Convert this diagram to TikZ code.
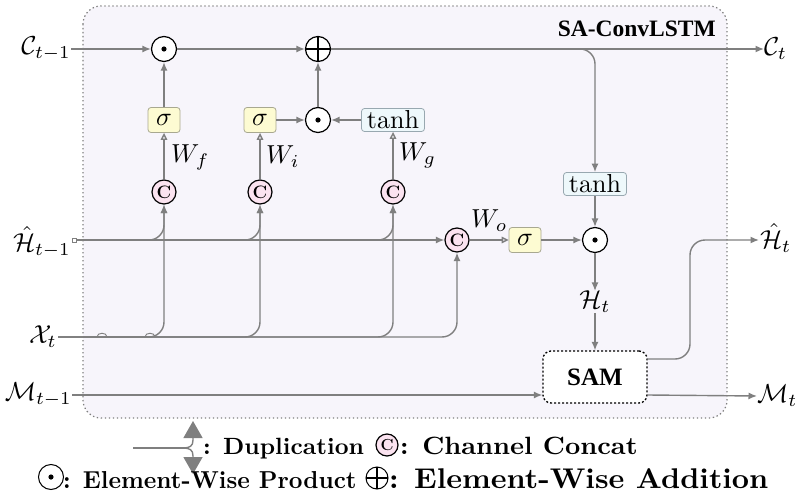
\documentclass[tikz,border=0pt]{standalone}
\usepackage{fontspec}
\usepackage{amsmath}
\newfontfamily\tnrfont{Liberation Serif}
\usetikzlibrary{arrows.meta}
\definecolor{lgray}{HTML}{7F7F7F}
\definecolor{framefill}{HTML}{F7F5FB}
\definecolor{ccpink}{HTML}{FBE3F0}
\definecolor{sigfill}{HTML}{FDFBD2}
\definecolor{sigdraw}{HTML}{A8A890}
\definecolor{thfill}{HTML}{EEF8FB}
\definecolor{thdraw}{HTML}{98A8B0}
\newcommand\myScl[1]{\scalebox{2.6}{#1}}
\begin{document}
\begin{tikzpicture}[x=1pt,y=-1pt,
  lline/.style={draw=lgray, line width=1.4pt},
  arr/.style={lline, -{Latex[length=8.5pt,width=7pt]}},
  oarr/.style={lline, -{Triangle[open,length=7pt,width=6.5pt]}},
  rc/.style={rounded corners=15pt},
  op/.style={circle, draw=black, line width=1.2pt, fill=white, minimum size=25pt, inner sep=0pt},
  dotc/.style={op, path picture={\fill[black] (path picture bounding box.center) circle (2.6pt);}},
  plusc/.style={op, path picture={\draw[black,line width=1.2pt]
     ([xshift=-13pt]path picture bounding box.center) -- ([xshift=13pt]path picture bounding box.center)
     ([yshift=-13pt]path picture bounding box.center) -- ([yshift=13pt]path picture bounding box.center);}},
  cc/.style={circle, draw=black, line width=1.2pt, fill=ccpink, minimum size=24pt, inner sep=0pt,
     font=\fontsize{18}{18}\selectfont\bfseries},
  sig/.style={draw=sigdraw, line width=0.8pt, fill=sigfill, rounded corners=3pt, minimum width=32pt,
     minimum height=25pt, inner sep=0pt},
  th/.style={draw=thdraw, line width=0.8pt, fill=thfill, rounded corners=3pt, minimum width=63pt,
     minimum height=23pt, inner sep=0pt},
  lbl/.style={inner sep=0pt},
  wlbl/.style={inner sep=0pt, anchor=west},
  legtext/.style={inner sep=0pt, anchor=base west, font=\bfseries}]
\useasboundingbox (0,0) rectangle (795,495);
% frame
\draw[draw=lgray, fill=framefill, line width=1.2pt, dash pattern=on 1.4pt off 2.6pt, rounded corners=18pt]
  (83,6) rectangle (727,418);
\node[anchor=east, inner sep=0pt, font=\fontsize{23.5}{26}\selectfont\tnrfont\bfseries] (ttl) at (716,29) {SA-ConvLSTM};

% operators
\node[dotc]  (o1)   at (164,49) {};
\node[plusc] (plus) at (318,49) {};
\node[dotc]  (o2)   at (318,120) {};
\node[dotc]  (o3)   at (595,240) {};
% gates
\node[sig] (s1) at (164,120) {\myScl{$\sigma$}};
\node[sig] (s2) at (260,120) {\myScl{$\sigma$}};
\node[th]  (t1) at (393,120) {\myScl{$\tanh$}};
\node[sig] (s3) at (525,240) {\myScl{$\sigma$}};
\node[th]  (t2) at (595,184) {\myScl{$\tanh$}};
% concat
\node[cc] (c1) at (164,192) {C};
\node[cc] (c2) at (260,192) {C};
\node[cc] (c3) at (393,192) {C};
\node[cc] (c4) at (457,240) {C};
% SAM
\node[draw=black, line width=1.3pt, dash pattern=on 2pt off 2pt, fill=white, rounded corners=8pt,
  minimum width=104pt, minimum height=52pt, inner sep=0pt,
  font=\fontsize{25}{28}\selectfont\tnrfont\bfseries] (sam) at (595,377) {SAM};

% labels
\node[lbl, anchor=east] (Cin)  at (71,49)  {\myScl{$\mathcal{C}_{t-1}$}};
\node[lbl, anchor=west] (Cout) at (764,49) {\myScl{$\mathcal{C}_t$}};
\node[lbl, anchor=east] (Hin)  at (71,242) {\myScl{$\hat{\mathcal{H}}_{t-1}$}};
\node[lbl, anchor=east] (Xin)  at (57,337) {\myScl{$\mathcal{X}_t$}};
\node[lbl, anchor=east] (Min)  at (72,395) {\myScl{$\mathcal{M}_{t-1}$}};
\node[lbl, anchor=west] (Hout) at (760,238) {\myScl{$\hat{\mathcal{H}}_t$}};
\node[lbl, anchor=west] (Mout) at (757,396) {\myScl{$\mathcal{M}_t$}};
\node[lbl] (Ht) at (595,302) {\myScl{$\mathcal{H}_t$}};
\node[wlbl] (wf) at (171,157) {\myScl{$W_f$}};
\node[wlbl] (wi) at (266,157) {\myScl{$W_i$}};
\node[wlbl] (wg) at (399,155) {\myScl{$W_g$}};
\node[wlbl] (wo) at (471,221) {\myScl{$W_o$}};

% cell state path
\draw[arr] (Cin.east) -- (o1.west);
\draw[arr] (o1) -- (plus);
\draw[arr] (plus) -- (Cout.west);
\draw[arr, rc] (plus.east) -| (t2.north);
\draw[arr] (t2) -- (o3);
% gates
\draw[arr] (s1) -- (o1);
\draw[arr] (s2) -- (o2);
\draw[arr] (t1) -- (o2);
\draw[arr] (o2) -- (plus);
\draw[oarr] (c1) -- (s1);
\draw[oarr] (c2) -- (s2);
\draw[oarr] (c3) -- (t1);
\draw[oarr] (c4) -- (s3);
\draw[arr] (s3) -- (o3);
\draw[arr] (o3) -- (Ht);
\draw[arr] (Ht) -- (sam);

% X_t input
\coordinate (xs) at (58,337);
\draw[arr, rc] (xs) -| (c1.south);
\draw[arr, rc] (xs) -| (c2.south);
\draw[arr, rc] (xs) -| (c3.south);
\draw[arr, rc] (xs) -| (c4.south);
\draw[draw=lgray, line width=0.9pt] (97,337) .. controls (97,332) and (107,332) .. (107,337);
\draw[draw=lgray, line width=0.9pt] (145,337) .. controls (145,332) and (155,332) .. (155,337);

% H_{t-1} input
\node[draw=lgray, line width=0.8pt, fill=white, inner sep=0pt, minimum size=4pt] (hsq) at (74,240) {};
\draw[arr] (hsq.east) -- (c4.west);
\draw[arr, rc] (hsq.east) -| (c1.south);
\draw[arr, rc] (hsq.east) -| (c2.south);
\draw[arr, rc] (hsq.east) -| (c3.south);

% memory and outputs
\draw[arr] (Min.east) -- (sam.west |- Min.east);
\draw[arr] (sam.east |- Min.east) -- (Mout.west);
\coordinate (hup) at (690,300);
\coordinate (hend) at (759,240);
\draw[arr, rc] ([yshift=18pt]sam.east) -| (hup) |- (hend);

% legend
\draw[lline] (133,448) -- (184,448);
\draw[lline, -{Triangle[length=17pt,width=19pt]}] (183,448) .. controls (190,448) and (193,446) .. (193,440) -- (193,421);
\draw[lline, -{Triangle[length=17pt,width=19pt]}] (183,448) .. controls (190,448) and (193,450) .. (193,456) -- (193,474);
\node[legtext] (ldup) at (203,454) {\scalebox{2.41}[2.35]{: Duplication}};
\node[cc, minimum size=22pt, font=\fontsize{16}{16}\selectfont\bfseries] (lcc) at (387,445) {C};
\node[legtext] (lccx) at (400,454) {\scalebox{2.66}[2.5]{: Channel Concat}};
\node[dotc, line width=1pt, minimum size=25pt] (lodot) at (51,477) {};
\node[legtext] (lodx) at (63,488) {\scalebox{2.38}[2.45]{: Element-Wise Product}};
\node[plusc, line width=1pt, minimum size=22pt] (lplus) at (377,478) {};
\node[legtext] (lplx) at (389,488) {\scalebox{3.0}[2.85]{: Element-Wise Addition}};
\end{tikzpicture}
\end{document}
